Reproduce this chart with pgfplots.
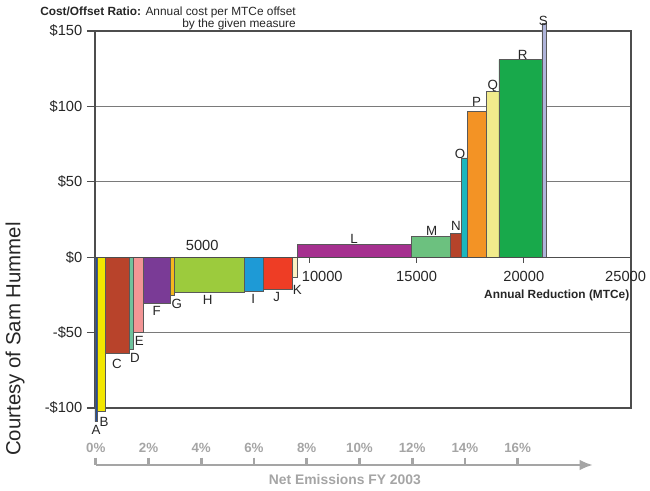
\documentclass[border=0pt]{standalone}
\usepackage{pgfplots}
\pgfplotsset{compat=1.18}
\usepackage{fontspec}
\setmainfont{Liberation Sans}
\usetikzlibrary{arrows.meta}
\definecolor{cA}{HTML}{1F4E9E}
\definecolor{cB}{HTML}{F2E600}
\definecolor{cC}{HTML}{B8432B}
\definecolor{cD}{HTML}{6EC29C}
\definecolor{cE}{HTML}{F29595}
\definecolor{cF}{HTML}{7A3B96}
\definecolor{cG}{HTML}{F4B71E}
\definecolor{cH}{HTML}{9CCB3D}
\definecolor{cI}{HTML}{1E9AD6}
\definecolor{cJ}{HTML}{EE3D25}
\definecolor{cK}{HTML}{FAF2C4}
\definecolor{cL}{HTML}{A5308F}
\definecolor{cM}{HTML}{6CC17F}
\definecolor{cN}{HTML}{B5432A}
\definecolor{cO}{HTML}{1BB6BE}
\definecolor{cP}{HTML}{F39325}
\definecolor{cQ}{HTML}{F2EB8C}
\definecolor{cR}{HTML}{18A94B}
\definecolor{cS}{HTML}{AFB4DA}
\definecolor{gridc}{HTML}{7A7A7A}
\definecolor{boxc}{HTML}{4D4D4D}
\definecolor{pctc}{HTML}{A5A5A5}
\newcommand{\cbar}[4]{\addplot[fill=#1, draw=black!65, line width=0.4pt] coordinates {(#2,0) (#2,#4) (#3,#4) (#3,0)} \closedcycle;}
\begin{document}
\begin{tikzpicture}[x=1pt,y=1pt]
\useasboundingbox (0,0) rectangle (487.5,368.25);
\begin{axis}[at={(71.25pt,62.25pt)}, anchor=south west, scale only axis,
  width=402pt, height=282.75pt,
  xmin=0, xmax=25000, ymin=-100, ymax=150, clip=false,
  xtick=\empty,
  ytick={-100,-50,0,50,100,150},
  yticklabels={-\$100,-\$50,\$0,\$50,\$100,\$150},
  ytick pos=left, tick align=outside, major tick length=6pt,
  ymajorgrids, grid style={color=gridc, line width=0.8pt},
  axis line style={color=boxc, line width=0.8pt},
  tick style={color=boxc, line width=0.8pt},
  yticklabel style={font=\fontsize{11}{12}\selectfont, text=black!85},
]
\cbar{cA}{0}{110}{-109}
\cbar{cB}{110}{500}{-102.5}
\cbar{cC}{500}{1590}{-63.8}
\cbar{cD}{1590}{1790}{-61}
\cbar{cE}{1790}{2250}{-50}
\cbar{cF}{2250}{3530}{-30.7}
\cbar{cG}{3530}{3700}{-25}
\cbar{cH}{3700}{6960}{-23}
\cbar{cI}{6960}{7850}{-22.3}
\cbar{cJ}{7850}{9200}{-21.4}
\cbar{cK}{9200}{9440}{-13}
\cbar{cL}{9440}{14770}{8.4}
\cbar{cM}{14770}{16560}{14}
\cbar{cN}{16560}{17100}{16}
\cbar{cO}{17100}{17370}{65.8}
\cbar{cP}{17370}{18270}{96.7}
\cbar{cQ}{18270}{18840}{110}
\cbar{cR}{18840}{20840}{131}
\cbar{cS}{20840}{21040}{155}
\addplot[draw=boxc, line width=0.8pt] coordinates {(0,0) (25000,0)};
\draw[boxc, line width=0.8pt] (axis cs:10000,0) -- ([yshift=-4pt]axis cs:10000,0);
\draw[boxc, line width=0.8pt] (axis cs:15000,0) -- ([yshift=-4pt]axis cs:15000,0);
\draw[boxc, line width=0.8pt] (axis cs:20000,0) -- ([yshift=-4pt]axis cs:20000,0);
\begin{scope}[every node/.style={font=\fontsize{11}{12}\selectfont, text=black!85}]
\node at (axis cs:5000,0) [yshift=8.5pt] {5000};
\node at (axis cs:10600,0) [yshift=-14.25pt] {10000};
\node at (axis cs:15000,0) [yshift=-14.25pt] {15000};
\node at (axis cs:20000,0) [yshift=-14.25pt] {20000};
\node at (axis cs:24750,0) [yshift=-14.25pt] {25000};
\end{scope}
\node[anchor=east, inner sep=0pt, font=\bfseries\fontsize{8.9}{10}\selectfont, text=black!85] at (axis cs:24930,0) [yshift=-28.5pt] {Annual Reduction (MTCe)};
\begin{scope}[every node/.style={font=\fontsize{10}{11}\selectfont, text=black!85, inner sep=0pt}]
\node at (axis cs:47,-114.6) {A};
\node at (axis cs:420,-109) {B};
\node at (axis cs:1026,-70.9) {C};
\node at (axis cs:1866,-66.9) {D};
\node at (axis cs:2066,-55.4) {E};
\node at (axis cs:2877,-35.6) {F};
\node at (axis cs:3810,-30.7) {G};
\node at (axis cs:5255,-28) {H};
\node at (axis cs:7384,-27.4) {I};
\node at (axis cs:8473,-26.3) {J};
\node at (axis cs:9436,-21.4) {K};
\node at (axis cs:12080,12.4) {L};
\node at (axis cs:15704,17.2) {M};
\node at (axis cs:16838,20.5) {N};
\node at (axis cs:17024,68.7) {O};
\node at (axis cs:17803,102.9) {P};
\node at (axis cs:18550,113.4) {Q};
\node at (axis cs:19949,134.2) {R};
\node at (axis cs:20910,156.5) {S};
\end{scope}
\end{axis}
% percent axis
\begin{axis}[at={(71.8pt,19.5pt)}, anchor=north west, scale only axis,
  width=373pt, height=10pt, clip=false,
  xmin=0, xmax=18.86, ymin=0, ymax=1,
  axis x line=top, hide y axis,
  xtick={0,2,...,16},
  xticklabel={\pgfmathprintnumber{\tick}\%},
  /pgf/number format/assume math mode=true,
  tick align=outside, major tick length=5.5pt,
  x axis line style={color=pctc, line width=2.2pt, -{Latex[length=10pt,width=8pt]}},
  tick style={color=pctc, line width=2pt},
  xticklabel style={font=\bfseries\fontsize{10}{11}\selectfont, text=pctc},
]
\node[font=\bfseries\fontsize{10.4}{11}\selectfont, text=pctc] at (rel axis cs:0.501,1) [yshift=-11.25pt] {Net Emissions FY 2003};
\end{axis}
\node[anchor=north east, align=right, inner sep=0pt, font=\fontsize{8.9}{8.6}\selectfont, text=black!85] at (222,363) {\textbf{Cost/Offset Ratio:} Annual cost per MTCe offset\\by the given measure};
\node[rotate=90, font=\fontsize{15.3}{18}\selectfont, text=black!85] at (11.25,114) {Courtesy of Sam Hummel};
\end{tikzpicture}
\end{document}
